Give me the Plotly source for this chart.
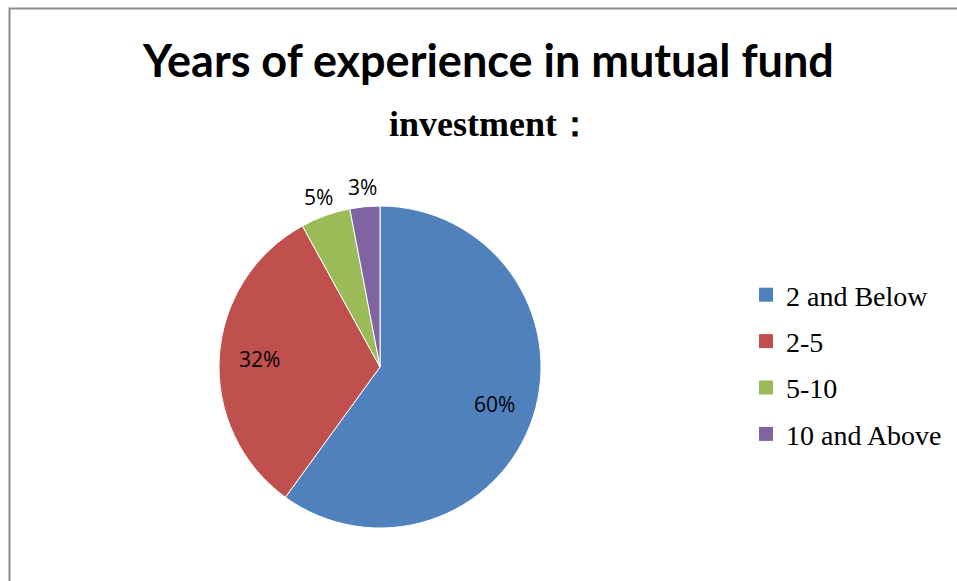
import math
import plotly.graph_objects as go

# Share of investors by years of experience in mutual funds
categories = ["2 and Below", "2-5", "5-10", "10 and Above"]
shares = [60, 32, 5, 3]
colors = ["#4F81BD", "#C0504D", "#9BBB59", "#8064A2"]
label_outside = [False, False, True, True]

W, H = 957, 581
CX, CY, R = 380, 367, 161  # pie centre and radius in pixels

fig = go.Figure()

fig.add_trace(go.Pie(
    labels=categories,
    values=shares,
    sort=False,
    direction="clockwise",
    rotation=0,
    marker=dict(colors=colors, line=dict(color="white", width=1)),
    textinfo="none",
    domain=dict(x=[(CX - R) / W, (CX + R) / W],
                y=[(H - CY - R) / H, (H - CY + R) / H]),
    showlegend=False,
    hoverinfo="label+percent",
))

# Percentage labels placed along each slice's mid-angle
total = sum(shares)
annotations = []
start = 0.0
for val, outside in zip(shares, label_outside):
    mid = (start + val / 2) / total * 2 * math.pi
    start += val
    r = R + 20 if outside else 0.75 * R
    px = CX + r * math.sin(mid)
    py = CY - r * math.cos(mid)
    annotations.append(dict(
        text=f"{round(val / total * 100)}%", x=px / W, y=1 - py / H,
        xref="paper", yref="paper", xanchor="center", yanchor="middle",
        showarrow=False,
        font=dict(family="Open Sans, sans-serif", size=21, color="black")))

# Legend entries, one group each so the rows can be spaced out
for name, col in zip(categories, colors):
    fig.add_trace(go.Scatter(
        x=[None], y=[None], mode="markers", name=name, legendgroup=name,
        marker=dict(symbol="square", size=14, color=col),
    ))

annotations += [
    dict(text="<b>Years of experience in mutual fund</b>",
         x=488 / W, y=1 - 60 / H, xref="paper", yref="paper",
         xanchor="center", yanchor="middle", showarrow=False,
         font=dict(family="Lato, sans-serif", size=45, color="black")),
    dict(text="<b>investment：</b>",
         x=491 / W, y=1 - 124 / H, xref="paper", yref="paper",
         xanchor="center", yanchor="middle", showarrow=False,
         font=dict(family="Liberation Serif, Times New Roman, serif", size=36, color="black")),
]

fig.update_layout(
    width=W, height=H,
    margin=dict(l=0, r=0, t=0, b=0),
    paper_bgcolor="white", plot_bgcolor="white",
    xaxis=dict(visible=False), yaxis=dict(visible=False),
    legend=dict(
        x=746 / W, y=1 - 270 / H, xanchor="left", yanchor="top",
        font=dict(family="Liberation Serif, Times New Roman, serif", size=28, color="black"),
        tracegroupgap=7, itemsizing="trace", bgcolor="rgba(0,0,0,0)",
    ),
    annotations=annotations,
    shapes=[
        dict(type="path", xref="paper", yref="paper",
             path=f"M {9.5 / W},-0.01 L {9.5 / W},{1 - 8.5 / H} L 1.01,{1 - 8.5 / H}",
             line=dict(color="#8c8c8c", width=2)),
    ],
)

fig.write_html("out.html")
